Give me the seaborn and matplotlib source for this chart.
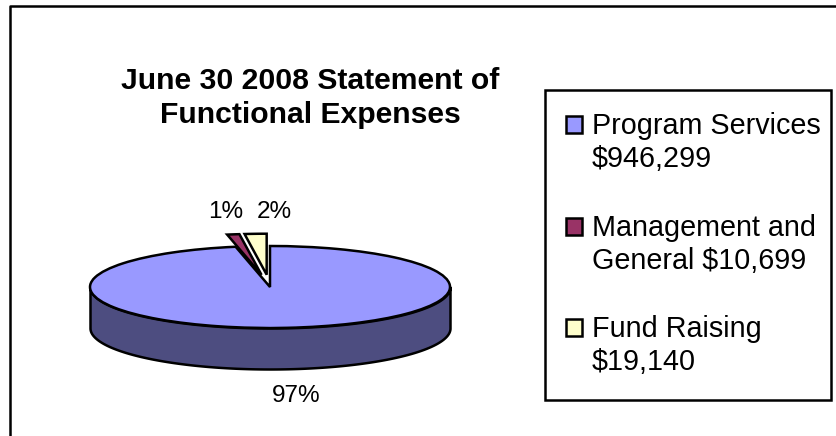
import numpy as np
import matplotlib.pyplot as plt
from matplotlib.lines import Line2D
from matplotlib.patches import Patch, Rectangle
from matplotlib.legend_handler import HandlerPatch
import seaborn as sns

labels = ['Program Services\n$946,299', 'Management and\nGeneral $10,699', 'Fund Raising\n$19,140']
expenses = [946299, 10699, 19140]
pct_labels = ['97%', '1%', '2%']
colors = ['#9999ff', '#993366', '#ffffcc']
side_color = '#4d4d80'
explode = [0, 0.3, 0.3]

W, H = 837, 436
sns.set_theme(style='white')
plt.rcParams['font.family'] = ['Liberation Sans', 'DejaVu Sans']

fig = plt.figure(figsize=(W / 100, H / 100), dpi=100)

# outer border, only top and left are in the picture
fig.add_artist(Line2D([10 / W, 10 / W, 1], [0, 1 - 6 / H, 1 - 6 / H], transform=fig.transFigure,
                      color='black', lw=1.8))

# pie box in pixels, ellipse comes from the non-equal aspect
cx, cy, rx, ry = 270, 287, 180, 41
ax = fig.add_axes([(cx - rx) / W, 1 - (cy + ry) / H, 2 * rx / W, 2 * ry / H])
depth = 41 / ry

theta = np.linspace(np.pi, 2 * np.pi, 200)
ax.fill_between(np.cos(theta), np.sin(theta), np.sin(theta) - depth,
                color=side_color, ec='black', lw=1.8, zorder=1, clip_on=False)

wedges, _ = ax.pie(expenses, colors=colors, startangle=90, counterclock=False, explode=explode,
                   wedgeprops=dict(ec='black', lw=1.8, zorder=2), radius=1, frame=False)
ax.set_aspect('auto')
ax.set_xlim(-1, 1)
ax.set_ylim(-1, 1)
ax.axis('off')
for w in wedges:
    w.set_clip_on(False)

# percent labels
pct_x = [296, 226, 274]
pct_y = [396, 212, 212]
for t, x, y in zip(pct_labels, pct_x, pct_y):
    fig.text(x / W, 1 - y / H, t, ha='center', va='center', fontsize=17.5, color='black')

fig.text(310 / W, 1 - 98 / H, 'June 30 2008 Statement of\nFunctional Expenses', ha='center', va='center',
         fontsize=21.7, fontweight='bold', color='black', linespacing=1.25)

# legend box is drawn apart so it can have the exact size
fig.add_artist(Rectangle((545 / W, 1 - 400 / H), 286 / W, 310 / H, transform=fig.transFigure,
                         fill=False, ec='black', lw=1.8))


def top_line_patch(legend, orig_handle, xdescent, ydescent, width, height, fontsize):
    # square sits beside the first text line, not in the middle of the two
    return Rectangle((-xdescent, -ydescent + 13.5), width, height)


handles = [Patch(fc=c, ec='black', lw=1.8) for c in colors]
leg = fig.legend(handles, labels, loc='upper left', bbox_to_anchor=(566 / W, 1 - 112 / H),
                 bbox_transform=fig.transFigure, fontsize=20.7, frameon=False, labelcolor='black',
                 handlelength=0.55, handleheight=0.55, handletextpad=0.35, labelspacing=1.42,
                 borderpad=0, borderaxespad=0,
                 handler_map={Patch: HandlerPatch(patch_func=top_line_patch)})
for t in leg.get_texts():
    t.set_linespacing(1.22)

fig.savefig('out.png', dpi=100)
